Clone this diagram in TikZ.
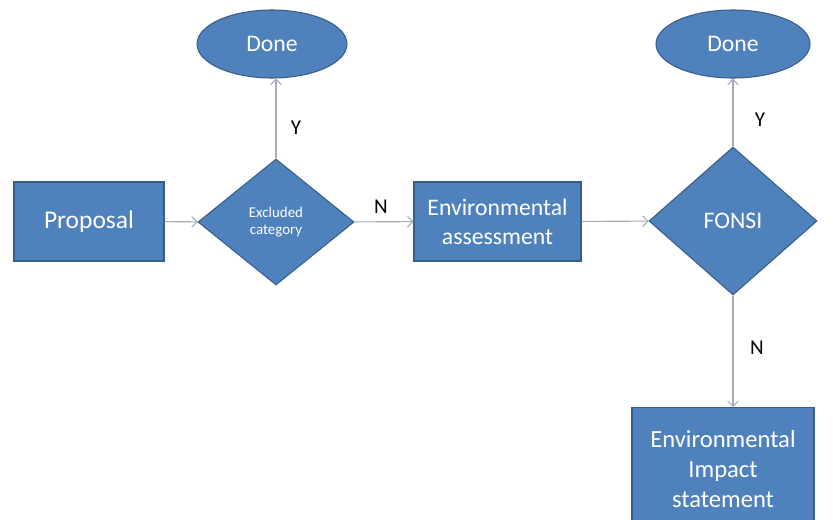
\documentclass[tikz,border=0pt]{standalone}
\usepackage{fontspec}
\setmainfont{Carlito}
\definecolor{flow_fill}{RGB}{79, 129, 189}
\definecolor{flow_edge}{RGB}{56, 93, 138}
\definecolor{flow_arrow}{RGB}{165, 172, 186}
\usetikzlibrary{arrows.meta, shapes.geometric}

\begin{document}
\begin{tikzpicture}[font=\fontsize{13.5}{16.5}\selectfont,
          blk/.style={draw=flow_edge, fill=flow_fill, text=white, align=center,
                      line width=0.6pt, inner sep=2pt},
          dec/.style={blk, diamond, inner sep=0pt},
          term/.style={blk, ellipse, inner sep=0pt},
          arr/.style={-{Straight Barb[length=3pt, width=6pt]}, flow_arrow, line width=0.6pt},
          lbl/.style={text=black, font=\fontsize{12}{14}\selectfont}]
          \clip (0, 0) rectangle (16.66, 10.38);
          \fill[white] (0, 0) rectangle (16.66, 10.38);
          \node[blk, minimum width=3.0cm, minimum height=1.58cm,
                font=\fontsize{14.5}{17}\selectfont] (prop)
            at (1.78, 5.95) {Proposal};
          \node[dec, minimum width=3.12cm, minimum height=2.52cm,
                font=\fontsize{8.5}{10}\selectfont] (excl)
            at (5.52, 5.94) {Excluded\\category};
          \node[term, minimum width=3.0cm, minimum height=1.36cm] (done1)
            at (5.44, 9.5) {Done};
          \node[blk, minimum width=3.34cm, minimum height=1.58cm] (env)
            at (9.95, 5.95) {Environmental\\assessment};
          \node[dec, minimum width=3.36cm, minimum height=2.96cm] (fonsi)
            at (14.66, 5.96) {FONSI};
          \node[term, minimum width=3.08cm, minimum height=1.36cm] (done2)
            at (14.66, 9.5) {Done};
          \node[blk, minimum width=3.64cm, minimum height=2.46cm,
                anchor=north, font=\fontsize{14}{17}\selectfont] (eis)
            at (14.46, 2.24) {Environmental\\Impact\\statement};
          % branch labels
          \node[lbl] (ylbl1) at (5.92, 7.82) {Y};
          \node[lbl] (nlbl1) at (7.62, 6.24) {N};
          \node[lbl] (ylbl2) at (15.2, 7.98) {Y};
          \node[lbl] (nlbl2) at (15.14, 3.42) {N};
          \draw[arr] (prop) -- (excl);
          \draw[arr] (excl) -- (env);
          \draw[arr] (env) -- (fonsi);
          \draw[arr] (excl.north) -- (excl.north |- done1.south);
          \draw[arr] (fonsi.north) -- (fonsi.north |- done2.south);
          \draw[arr] (fonsi.south) -- (fonsi.south |- eis.north);
        \end{tikzpicture}
\end{document}
